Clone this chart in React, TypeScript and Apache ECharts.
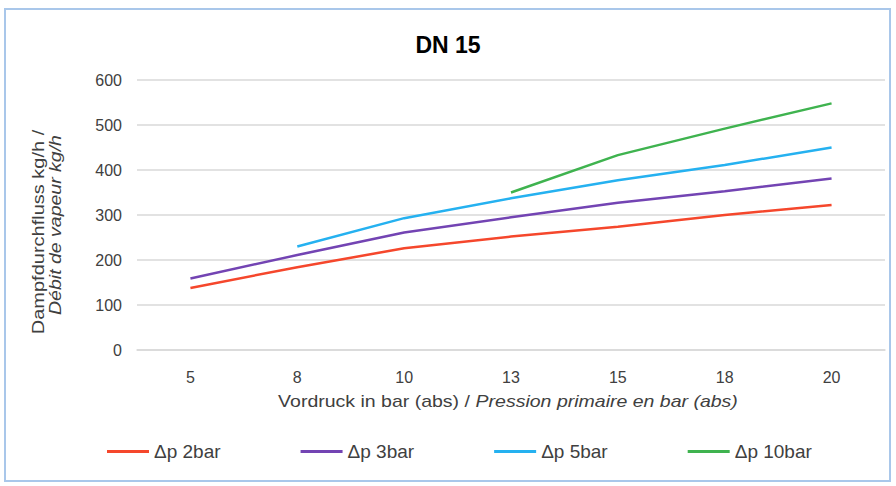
import React, { useEffect, useRef } from "react";
import * as echarts from "echarts";

const categories = ["5", "8", "10", "13", "15", "18", "20"];
const dp2 = [138, 184, 226, 252, 274, 300, 322];
const dp3 = [159, 211, 261, 295, 327, 353, 381];
const dp5 = [null, 230, 293, 337, 377, 411, 450];
const dp10 = [null, null, null, 350, 433, 492, 548];
const seriesNames = ["Δp 2bar", "Δp 3bar", "Δp 5bar", "Δp 10bar"];
const seriesColors = ["#f5472c", "#7344b3", "#25b1f0", "#3fb34f"];

const FONT = "Liberation Sans, Arial, sans-serif";

export default function App() {
  const ref = useRef<HTMLDivElement>(null);
  useEffect(() => {
    if (!ref.current) return;
    const chart = echarts.init(ref.current, null, { renderer: "svg" });
    const data = [dp2, dp3, dp5, dp10];
    chart.setOption({
      animation: false,
      backgroundColor: "#ffffff",
      textStyle: { fontFamily: FONT },
      title: {
        text: "DN 15",
        left: "center",
        top: 28,
        textStyle: { fontSize: 23, fontWeight: "bold", color: "#000", fontFamily: FONT },
      },
      grid: { left: 137, right: 11, top: 80, bottom: 136 },
      xAxis: {
        type: "category",
        data: categories,
        boundaryGap: true,
        axisLine: { show: true, lineStyle: { color: "#d9d9d9", width: 1.5 } },
        axisTick: { show: false },
        axisLabel: { color: "#404040", fontSize: 16, margin: 19, fontFamily: FONT },
      },
      yAxis: {
        type: "value",
        min: 0,
        max: 600,
        interval: 100,
        axisLine: { show: false },
        axisTick: { show: false },
        axisLabel: { color: "#404040", fontSize: 16, margin: 15, fontFamily: FONT },
        splitLine: { lineStyle: { color: "#d9d9d9", width: 1.5 } },
      },
      legend: {
        bottom: 20,
        left: 102,
        itemGap: 80,
        itemWidth: 42,
        itemHeight: 3,
        icon: "rect",
        textStyle: { color: "#404040", fontSize: 19, fontFamily: FONT },
        data: seriesNames,
      },
      series: seriesNames.map((n, i) => ({
        name: n,
        type: "line",
        data: data[i],
        showSymbol: false,
        symbol: "none",
        lineStyle: { color: seriesColors[i], width: 2.5 },
        itemStyle: { color: seriesColors[i] },
        connectNulls: false,
      })),
      graphic: [
        {
          type: "rect",
          shape: { x: 5, y: 9, width: 885, height: 472 },
          style: { fill: "none", stroke: "#a9c7ea", lineWidth: 2 },
          silent: true,
        },
        {
          type: "text",
          x: 508,
          y: 402,
          scaleX: 1.22,
          style: {
            text: "{n|Vordruck in bar (abs) / }{i|Pression primaire en bar (abs)}",
            align: "center",
            verticalAlign: "middle",
            rich: {
              n: { fontSize: 16, fill: "#404040", fontFamily: FONT },
              i: { fontSize: 16, fill: "#404040", fontStyle: "italic", fontFamily: FONT },
            },
          },
        },
        {
          type: "text",
          x: 39,
          y: 232,
          rotation: Math.PI / 2,
          scaleX: 1.25,
          style: {
            text: "Dampfdurchfluss kg/h /",
            align: "center",
            verticalAlign: "middle",
            fontSize: 16,
            fill: "#404040",
            fontFamily: FONT,
          },
        },
        {
          type: "text",
          x: 56,
          y: 225,
          rotation: Math.PI / 2,
          scaleX: 1.22,
          style: {
            text: "Débit de vapeur kg/h",
            align: "center",
            verticalAlign: "middle",
            fontSize: 16,
            fontStyle: "italic",
            fill: "#404040",
            fontFamily: FONT,
          },
        },
      ],
    });
    return () => chart.dispose();
  }, []);
  return (
    <div
      ref={ref}
      style={{ position: "absolute", left: 0, top: 0, width: 896, height: 486 }}
    />
  );
}
